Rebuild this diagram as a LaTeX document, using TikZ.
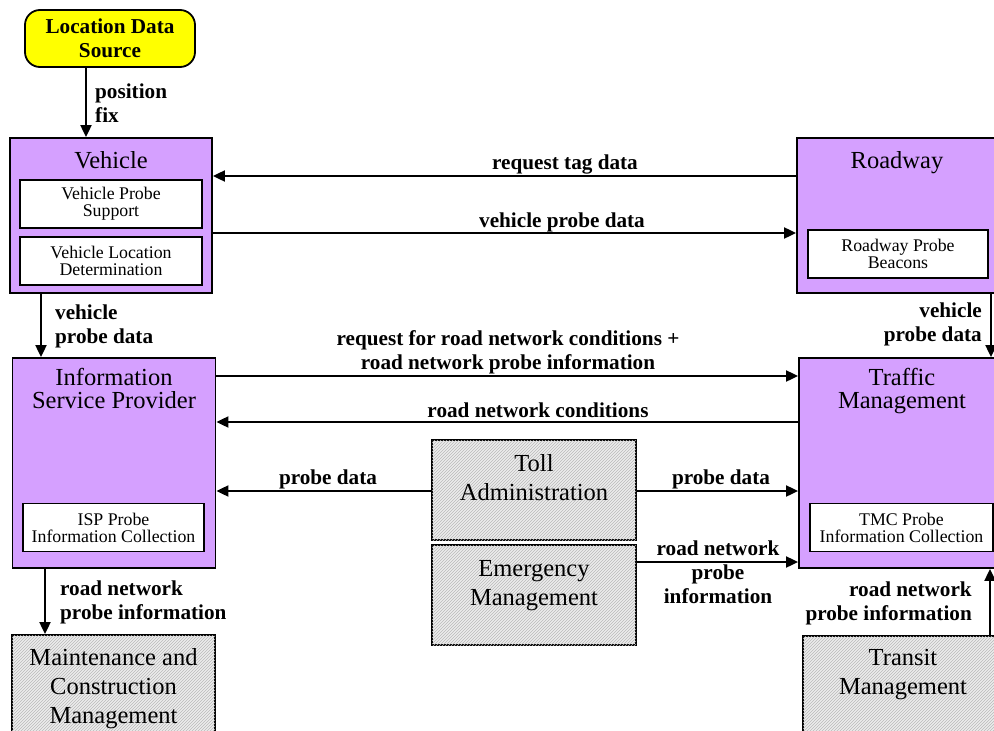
\documentclass[tikz,border=0pt]{standalone}
\usepackage{fontspec}
\setmainfont{Liberation Serif}
\usetikzlibrary{arrows.meta,patterns,calc}
\definecolor{purp}{RGB}{213,160,255}
\definecolor{yel}{RGB}{255,255,0}
\begin{document}
\begin{tikzpicture}[x=1pt,y=-1pt,
  outerbox/.style={draw=black,line width=1.8pt,fill=purp,inner sep=0pt},
  subbox/.style={draw=black,line width=1.6pt,fill=white,inner sep=0pt,align=center,font=\fontsize{17.8}{17}\selectfont},
  hatchbox/.style={draw=black,line width=1.8pt,fill=gray!14,postaction={pattern=north east lines,pattern color=gray!55},inner sep=0pt},
  ttl/.style={inner sep=0pt,align=center,font=\fontsize{24.5}{23}\selectfont},
  httl/.style={inner sep=0pt,align=center,font=\fontsize{24.5}{29}\selectfont},
  lbl/.style={inner sep=0pt,font=\fontsize{21.2}{24}\selectfont\bfseries},
  arr/.style={line width=1.9pt,-{Triangle[length=12pt,width=11pt]}}
]
\useasboundingbox (0,0) rectangle (994,731);

% Location Data Source
\node[draw=black,line width=1.8pt,fill=yel,rounded corners=15pt,minimum width=170pt,minimum height=57pt,inner sep=0pt,align=center,font=\fontsize{21.2}{24}\selectfont\bfseries] (lds) at (110,38.5) {Location Data\\Source};

% Vehicle
\node[outerbox,minimum width=202pt,minimum height=155pt] (veh) at (111,215.5) {};
\node[ttl] (vehT) at (111,160) {Vehicle};
\node[subbox,minimum width=182pt,minimum height=48pt] (vps) at (111,204) {Vehicle Probe\\Support};
\node[subbox,minimum width=182pt,minimum height=48pt] (vld) at (111,261) {Vehicle Location\\Determination};

% Roadway
\node[outerbox,minimum width=210pt,minimum height=155pt] (rd) at (902,215.5) {};
\node[ttl] (rdT) at (897,163) {Roadway};
\node[subbox,minimum width=180pt,minimum height=48pt] (rpb) at (898,254) {Roadway Probe\\Beacons};

% ISP
\node[outerbox,minimum width=203pt,minimum height=210pt] (isp) at (114,463) {};
\node[ttl] (ispT) at (114,388.5) {Information\\Service Provider};
\node[subbox,minimum width=181pt,minimum height=48pt] (ispS) at (113.5,527.5) {ISP Probe\\Information Collection};

% TMC
\node[outerbox,minimum width=210pt,minimum height=210pt] (tmc) at (904,463) {};
\node[ttl] (tmcT) at (902,391.5) {Traffic\\Management};
\node[subbox,minimum width=183pt,minimum height=48pt] (tmcS) at (901.5,527.5) {TMC Probe\\Information Collection};

% Toll / Emergency
\node[hatchbox,minimum width=204pt,minimum height=100pt] (toll) at (534,490) {};
\node[httl] (tollT) at (534,478) {Toll\\Administration};
\node[hatchbox,minimum width=204pt,minimum height=100pt] (em) at (534,595) {};
\node[httl] (emT) at (534,586) {Emergency\\Management};

% Maintenance / Transit
\node[hatchbox,minimum width=203pt,minimum height=130pt] (mcm) at (113.5,700) {};
\node[httl] (mcmT) at (113.5,689) {Maintenance and\\Construction\\Management};
\node[hatchbox,minimum width=204pt,minimum height=130pt] (trn) at (905,701) {};
\node[httl] (trnT) at (903,675) {Transit\\Management};

% Connectors
\draw[arr] (lds.south -| 86,0) -- (veh.north -| 86,0);
\node[lbl,anchor=west,align=left] (l1) at (95,103) {position\\fix};

\draw[arr] (rd.west |- 0,176) -- (veh.east |- 0,176);
\node[lbl] (l2) at (565,164) {request tag data};

\draw[arr] (veh.east |- 0,233) -- (rd.west |- 0,233);
\node[lbl] (l3) at (562,222) {vehicle probe data};

\draw[arr] (veh.south -| 41,0) -- (isp.north -| 41,0);
\node[lbl,anchor=west,align=left] (l4) at (55,326.5) {vehicle\\probe data};

\draw[arr] (rd.south -| 991,0) -- (tmc.north -| 991,0);
\node[lbl,anchor=east,align=right] (l5) at (982,324.5) {vehicle\\probe data};

\draw[arr] (isp.east |- 0,376) -- (tmc.west |- 0,376);
\node[lbl,align=center] (l6) at (508,352) {request for road network conditions +\\road network probe information};

\draw[arr] (tmc.west |- 0,422) -- (isp.east |- 0,422);
\node[lbl] (l7) at (538,410) {road network conditions};

\draw[arr] (toll.west |- 0,491) -- (isp.east |- 0,491);
\node[lbl] (l8) at (328,479) {probe data};

\draw[arr] (toll.east |- 0,491) -- (tmc.west |- 0,491);
\node[lbl] (l9) at (721,479) {probe data};

\draw[arr] (em.east |- 0,562) -- (tmc.west |- 0,562);
\node[lbl,align=center] (l10) at (718,572.5) {road network\\probe\\information};

\draw[arr] (isp.south -| 45,0) -- (mcm.north -| 45,0);
\node[lbl,anchor=west,align=left] (l11) at (60,602) {road network\\probe information};

\draw[arr] (trn.north -| 990,0) -- (tmc.south -| 990,0);
\node[lbl,anchor=east,align=right] (l12) at (972,603.5) {road network\\probe information};
\end{tikzpicture}
\end{document}
